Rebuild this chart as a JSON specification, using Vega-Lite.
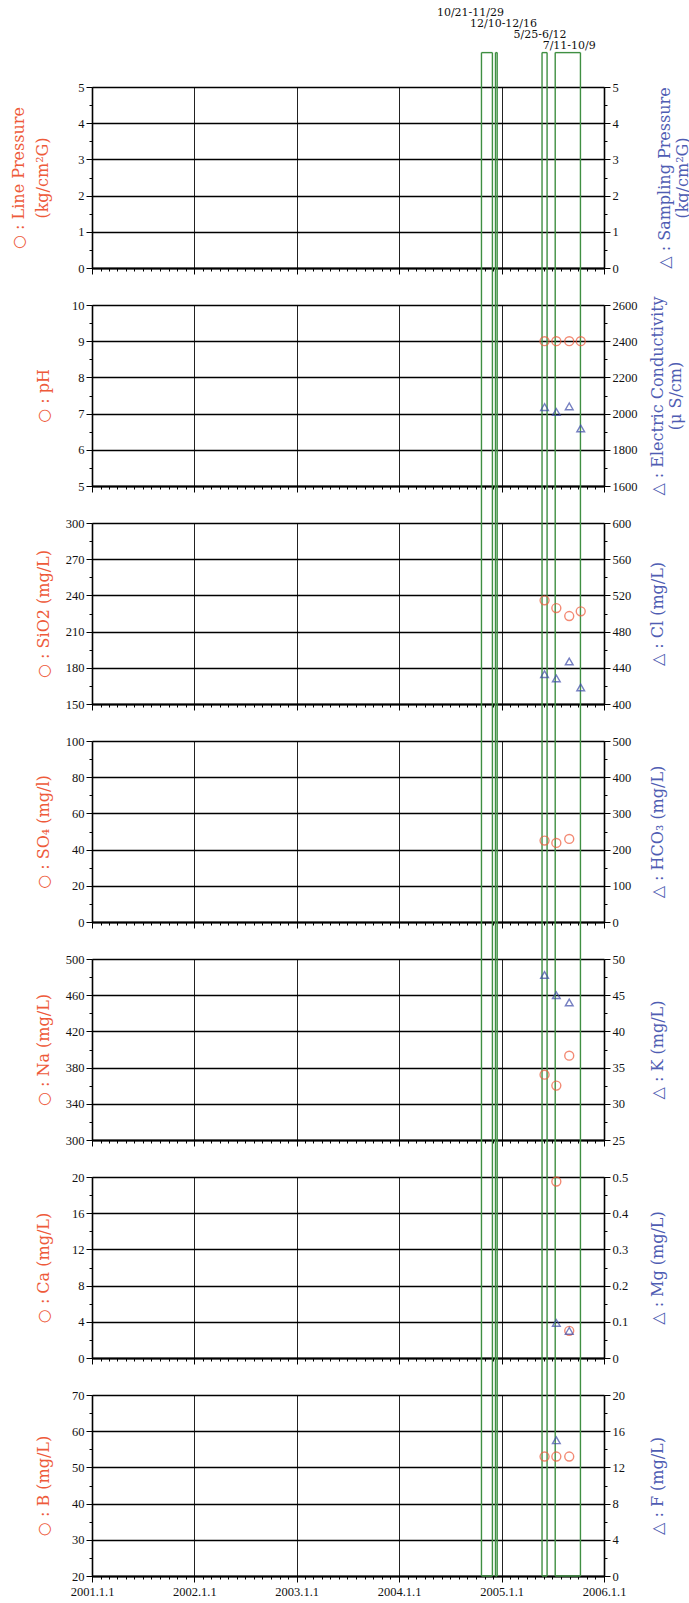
{
  "$schema": "https://vega.github.io/schema/vega-lite/v6.json",
  "background": "white",
  "padding": {"left": 10, "top": 7, "right": 5, "bottom": 5},
  "datasets": {
    "samples": [
      {"date": "2005-06-03T00:00", "pH": 9.0, "ec": 2036, "SiO2": 235.9, "Cl": 433, "SO4": 45.0, "Na": 372.2, "K": 47.8, "B": 53},
      {"date": "2005-07-15T00:00", "pH": 9.0, "ec": 2009, "SiO2": 229.5, "Cl": 428.3, "SO4": 43.7, "Na": 360.1, "K": 45.0, "Ca": 19.5, "Mg": 0.097, "B": 53, "F": 15.0},
      {"date": "2005-08-30T00:00", "pH": 9.0, "ec": 2040, "SiO2": 222.9, "Cl": 447, "SO4": 45.9, "Na": 393.2, "K": 44.0, "Ca": 3.0, "Mg": 0.075, "B": 53},
      {"date": "2005-10-10T00:00", "pH": 9.0, "ec": 1918, "SiO2": 226.8, "Cl": 418.3}
    ],
    "periods": [
      {"period": "10/21-11/29", "start": "2004-10-21T00:00", "end": "2004-11-29T00:00"},
      {"period": "12/10-12/16", "start": "2004-12-10T00:00", "end": "2004-12-16T00:00"},
      {"period": "5/25-6/12", "start": "2005-05-25T00:00", "end": "2005-06-12T00:00"},
      {"period": "7/11-10/9", "start": "2005-07-11T00:00", "end": "2005-10-09T00:00"}
    ]
  },
  "vconcat": [
    {
      "width": 512, "height": 181,
      "resolve": {"scale": {"y": "independent"}, "axis": {"x": "independent"}},
      "layer": [
        {"data": {"name": "periods"}, "mark": {"type": "rule", "color": "#3f8f42", "strokeWidth": 1.4},
         "encoding": {"x": {"field": "start", "type": "temporal", "scale": {"domain": [{"year": 2001, "month": 1, "date": 1}, {"year": 2006, "month": 1, "date": 1}]}, "axis": null},
                      "y": {"datum": 0, "type": "quantitative", "scale": {"domain": [0, 5], "nice": false, "zero": false}, "axis": null}, "y2": {"datum": 5.95}}},
        {"data": {"name": "periods"}, "mark": {"type": "rule", "color": "#3f8f42", "strokeWidth": 1.4},
         "encoding": {"x": {"field": "end", "type": "temporal", "axis": null},
                      "y": {"datum": 0, "type": "quantitative", "scale": {"domain": [0, 5], "nice": false, "zero": false}, "axis": null}, "y2": {"datum": 5.95}}},
        {"data": {"name": "periods"}, "mark": {"type": "rule", "color": "#3f8f42", "strokeWidth": 1.4},
         "encoding": {"x": {"field": "start", "type": "temporal", "axis": null}, "x2": {"field": "end"},
                      "y": {"datum": 5.95, "type": "quantitative", "scale": {"domain": [0, 5], "nice": false, "zero": false}, "axis": null}}},
        {"data": {"name": "periods"}, "transform": [{"filter": "datum.period == '10/21-11/29'"}],
         "mark": {"type": "text", "font": "DejaVu Serif", "fontSize": 11, "color": "#111", "align": "center", "baseline": "middle", "dx": -11, "dy": -74},
         "encoding": {"x": {"field": "start", "type": "temporal", "axis": null}, "y": {"datum": 5, "type": "quantitative", "scale": {"domain": [0, 5], "nice": false, "zero": false}, "axis": null}, "text": {"field": "period"}}},
        {"data": {"name": "periods"}, "transform": [{"filter": "datum.period == '12/10-12/16'"}],
         "mark": {"type": "text", "font": "DejaVu Serif", "fontSize": 11, "color": "#111", "align": "center", "baseline": "middle", "dx": 8, "dy": -63},
         "encoding": {"x": {"field": "start", "type": "temporal", "axis": null}, "y": {"datum": 5, "type": "quantitative", "scale": {"domain": [0, 5], "nice": false, "zero": false}, "axis": null}, "text": {"field": "period"}}},
        {"data": {"name": "periods"}, "transform": [{"filter": "datum.period == '5/25-6/12'"}],
         "mark": {"type": "text", "font": "DejaVu Serif", "fontSize": 11, "color": "#111", "align": "center", "baseline": "middle", "dx": -2, "dy": -52},
         "encoding": {"x": {"field": "start", "type": "temporal", "axis": null}, "y": {"datum": 5, "type": "quantitative", "scale": {"domain": [0, 5], "nice": false, "zero": false}, "axis": null}, "text": {"field": "period"}}},
        {"data": {"name": "periods"}, "transform": [{"filter": "datum.period == '7/11-10/9'"}],
         "mark": {"type": "text", "font": "DejaVu Serif", "fontSize": 11, "color": "#111", "align": "center", "baseline": "middle", "dx": 14, "dy": -40.7},
         "encoding": {"x": {"field": "start", "type": "temporal", "axis": null}, "y": {"datum": 5, "type": "quantitative", "scale": {"domain": [0, 5], "nice": false, "zero": false}, "axis": null}, "text": {"field": "period"}}},
        {"data": {"name": "samples"}, "mark": {"type": "point", "opacity": 0},
         "encoding": {"x": {"field": "date", "type": "temporal", "axis": {"orient": "bottom", "title": null, "labels": false, "domain": false, "grid": false, "tickCount": {"interval": "month", "step": 1}, "tickSize": 3}},
                      "y": {"field": "line_pressure", "type": "quantitative", "scale": {"domain": [0, 5], "nice": false, "zero": false}, "axis": {"orient": "left", "values": [0.5, 1.5, 2.5, 3.5, 4.5], "labels": false, "domain": false, "grid": false, "tickSize": 3, "title": null}}}},
        {"data": {"name": "samples"}, "mark": {"type": "point", "opacity": 0},
         "encoding": {"x": {"field": "date", "type": "temporal", "axis": null},
                      "y": {"field": "sampling_pressure", "type": "quantitative", "scale": {"domain": [0, 5], "nice": false, "zero": false}, "axis": {"orient": "right", "values": [0.5, 1.5, 2.5, 3.5, 4.5], "labels": false, "domain": false, "grid": false, "tickSize": 3, "title": null}}}},
        {"data": {"name": "samples"}, "mark": {"type": "point", "shape": "circle", "filled": false, "size": 80, "strokeWidth": 1.4, "color": "#ee5a3a"},
         "encoding": {"x": {"field": "date", "type": "temporal", "axis": {"orient": "bottom", "title": null, "labels": false, "values": [{"year": 2001, "month": 1, "date": 1}, {"year": 2002, "month": 1, "date": 1}, {"year": 2003, "month": 1, "date": 1}, {"year": 2004, "month": 1, "date": 1}, {"year": 2005, "month": 1, "date": 1}, {"year": 2006, "month": 1, "date": 1}], "tickSize": 6, "grid": true, "gridColor": "#222", "gridWidth": 1, "domainWidth": 1.8}},
                      "y": {"field": "line_pressure", "type": "quantitative", "scale": {"domain": [0, 5], "nice": false, "zero": false},
                            "axis": {"orient": "left", "values": [0, 1, 2, 3, 4, 5], "format": "d", "tickSize": 6, "grid": true, "gridColor": "#000", "gridWidth": 1.6, "titleX": -66, "title": ["○ : Line Pressure", "(kg/cm²G)"]}}}},
        {"data": {"name": "samples"}, "mark": {"type": "point", "shape": "triangle-up", "filled": false, "size": 60, "strokeWidth": 1.4, "color": "#3d4ba8"},
         "encoding": {"x": {"field": "date", "type": "temporal", "axis": null},
                      "y": {"field": "sampling_pressure", "type": "quantitative", "scale": {"domain": [0, 5], "nice": false, "zero": false},
                            "axis": {"orient": "right", "values": [0, 1, 2, 3, 4, 5], "format": "d", "tickSize": 6, "grid": false, "titleX": 52, "title": ["△ : Sampling Pressure", "(kg/cm²G)"]}}}}
      ]
    },
    {
      "width": 512, "height": 181,
      "resolve": {"scale": {"y": "independent"}, "axis": {"x": "independent"}},
      "layer": [
        {"data": {"name": "periods"}, "mark": {"type": "rule", "color": "#3f8f42", "strokeWidth": 1.4},
         "encoding": {"x": {"field": "start", "type": "temporal", "scale": {"domain": [{"year": 2001, "month": 1, "date": 1}, {"year": 2006, "month": 1, "date": 1}]}, "axis": null},
                      "y": {"datum": 5, "type": "quantitative", "scale": {"domain": [5, 10], "nice": false, "zero": false}, "axis": null}, "y2": {"datum": 11.05}}},
        {"data": {"name": "periods"}, "mark": {"type": "rule", "color": "#3f8f42", "strokeWidth": 1.4},
         "encoding": {"x": {"field": "end", "type": "temporal", "axis": null},
                      "y": {"datum": 5, "type": "quantitative", "scale": {"domain": [5, 10], "nice": false, "zero": false}, "axis": null}, "y2": {"datum": 11.05}}},
        {"data": {"name": "samples"}, "mark": {"type": "point", "opacity": 0},
         "encoding": {"x": {"field": "date", "type": "temporal", "axis": {"orient": "bottom", "title": null, "labels": false, "domain": false, "grid": false, "tickCount": {"interval": "month", "step": 1}, "tickSize": 3}},
                      "y": {"field": "pH", "type": "quantitative", "scale": {"domain": [5, 10], "nice": false, "zero": false}, "axis": {"orient": "left", "values": [5.5, 6.5, 7.5, 8.5, 9.5], "labels": false, "domain": false, "grid": false, "tickSize": 3, "title": null}}}},
        {"data": {"name": "samples"}, "mark": {"type": "point", "opacity": 0},
         "encoding": {"x": {"field": "date", "type": "temporal", "axis": null},
                      "y": {"field": "ec", "type": "quantitative", "scale": {"domain": [1600, 2600], "nice": false, "zero": false}, "axis": {"orient": "right", "values": [1700, 1900, 2100, 2300, 2500], "labels": false, "domain": false, "grid": false, "tickSize": 3, "title": null}}}},
        {"data": {"name": "samples"}, "mark": {"type": "point", "shape": "circle", "filled": false, "size": 80, "strokeWidth": 1.4, "color": "#ee5a3a"},
         "encoding": {"x": {"field": "date", "type": "temporal", "axis": {"orient": "bottom", "title": null, "labels": false, "values": [{"year": 2001, "month": 1, "date": 1}, {"year": 2002, "month": 1, "date": 1}, {"year": 2003, "month": 1, "date": 1}, {"year": 2004, "month": 1, "date": 1}, {"year": 2005, "month": 1, "date": 1}, {"year": 2006, "month": 1, "date": 1}], "tickSize": 6, "grid": true, "gridColor": "#222", "gridWidth": 1, "domainWidth": 1.8}},
                      "y": {"field": "pH", "type": "quantitative", "scale": {"domain": [5, 10], "nice": false, "zero": false},
                            "axis": {"orient": "left", "values": [5, 6, 7, 8, 9, 10], "format": "d", "tickSize": 6, "grid": true, "gridColor": "#000", "gridWidth": 1.6, "title": "○ : pH"}}}},
        {"data": {"name": "samples"}, "mark": {"type": "point", "shape": "triangle-up", "filled": false, "size": 60, "strokeWidth": 1.4, "color": "#3d4ba8"},
         "encoding": {"x": {"field": "date", "type": "temporal", "axis": null},
                      "y": {"field": "ec", "type": "quantitative", "scale": {"domain": [1600, 2600], "nice": false, "zero": false},
                            "axis": {"orient": "right", "values": [1600, 1800, 2000, 2200, 2400, 2600], "format": "d", "tickSize": 6, "grid": false, "title": ["△ : Electric Conductivity", "(μ S/cm)"]}}}}
      ]
    },
    {
      "width": 512, "height": 181,
      "resolve": {"scale": {"y": "independent"}, "axis": {"x": "independent"}},
      "layer": [
        {"data": {"name": "periods"}, "mark": {"type": "rule", "color": "#3f8f42", "strokeWidth": 1.4},
         "encoding": {"x": {"field": "start", "type": "temporal", "scale": {"domain": [{"year": 2001, "month": 1, "date": 1}, {"year": 2006, "month": 1, "date": 1}]}, "axis": null},
                      "y": {"datum": 150, "type": "quantitative", "scale": {"domain": [150, 300], "nice": false, "zero": false}, "axis": null}, "y2": {"datum": 331.5}}},
        {"data": {"name": "periods"}, "mark": {"type": "rule", "color": "#3f8f42", "strokeWidth": 1.4},
         "encoding": {"x": {"field": "end", "type": "temporal", "axis": null},
                      "y": {"datum": 150, "type": "quantitative", "scale": {"domain": [150, 300], "nice": false, "zero": false}, "axis": null}, "y2": {"datum": 331.5}}},
        {"data": {"name": "samples"}, "mark": {"type": "point", "opacity": 0},
         "encoding": {"x": {"field": "date", "type": "temporal", "axis": {"orient": "bottom", "title": null, "labels": false, "domain": false, "grid": false, "tickCount": {"interval": "month", "step": 1}, "tickSize": 3}},
                      "y": {"field": "SiO2", "type": "quantitative", "scale": {"domain": [150, 300], "nice": false, "zero": false}, "axis": {"orient": "left", "values": [165, 195, 225, 255, 285], "labels": false, "domain": false, "grid": false, "tickSize": 3, "title": null}}}},
        {"data": {"name": "samples"}, "mark": {"type": "point", "opacity": 0},
         "encoding": {"x": {"field": "date", "type": "temporal", "axis": null},
                      "y": {"field": "Cl", "type": "quantitative", "scale": {"domain": [400, 600], "nice": false, "zero": false}, "axis": {"orient": "right", "values": [420, 460, 500, 540, 580], "labels": false, "domain": false, "grid": false, "tickSize": 3, "title": null}}}},
        {"data": {"name": "samples"}, "mark": {"type": "point", "shape": "circle", "filled": false, "size": 80, "strokeWidth": 1.4, "color": "#ee5a3a"},
         "encoding": {"x": {"field": "date", "type": "temporal", "axis": {"orient": "bottom", "title": null, "labels": false, "values": [{"year": 2001, "month": 1, "date": 1}, {"year": 2002, "month": 1, "date": 1}, {"year": 2003, "month": 1, "date": 1}, {"year": 2004, "month": 1, "date": 1}, {"year": 2005, "month": 1, "date": 1}, {"year": 2006, "month": 1, "date": 1}], "tickSize": 6, "grid": true, "gridColor": "#222", "gridWidth": 1, "domainWidth": 1.8}},
                      "y": {"field": "SiO2", "type": "quantitative", "scale": {"domain": [150, 300], "nice": false, "zero": false},
                            "axis": {"orient": "left", "values": [150, 180, 210, 240, 270, 300], "format": "d", "tickSize": 6, "grid": true, "gridColor": "#000", "gridWidth": 1.6, "title": "○ : SiO2  (mg/L)"}}}},
        {"data": {"name": "samples"}, "mark": {"type": "point", "shape": "triangle-up", "filled": false, "size": 60, "strokeWidth": 1.4, "color": "#3d4ba8"},
         "encoding": {"x": {"field": "date", "type": "temporal", "axis": null},
                      "y": {"field": "Cl", "type": "quantitative", "scale": {"domain": [400, 600], "nice": false, "zero": false},
                            "axis": {"orient": "right", "values": [400, 440, 480, 520, 560, 600], "format": "d", "tickSize": 6, "grid": false, "title": "△ : Cl  (mg/L)"}}}}
      ]
    },
    {
      "width": 512, "height": 181,
      "resolve": {"scale": {"y": "independent"}, "axis": {"x": "independent"}},
      "layer": [
        {"data": {"name": "periods"}, "mark": {"type": "rule", "color": "#3f8f42", "strokeWidth": 1.4},
         "encoding": {"x": {"field": "start", "type": "temporal", "scale": {"domain": [{"year": 2001, "month": 1, "date": 1}, {"year": 2006, "month": 1, "date": 1}]}, "axis": null},
                      "y": {"datum": 0, "type": "quantitative", "scale": {"domain": [0, 100], "nice": false, "zero": false}, "axis": null}, "y2": {"datum": 121}}},
        {"data": {"name": "periods"}, "mark": {"type": "rule", "color": "#3f8f42", "strokeWidth": 1.4},
         "encoding": {"x": {"field": "end", "type": "temporal", "axis": null},
                      "y": {"datum": 0, "type": "quantitative", "scale": {"domain": [0, 100], "nice": false, "zero": false}, "axis": null}, "y2": {"datum": 121}}},
        {"data": {"name": "samples"}, "mark": {"type": "point", "opacity": 0},
         "encoding": {"x": {"field": "date", "type": "temporal", "axis": {"orient": "bottom", "title": null, "labels": false, "domain": false, "grid": false, "tickCount": {"interval": "month", "step": 1}, "tickSize": 3}},
                      "y": {"field": "SO4", "type": "quantitative", "scale": {"domain": [0, 100], "nice": false, "zero": false}, "axis": {"orient": "left", "values": [10, 30, 50, 70, 90], "labels": false, "domain": false, "grid": false, "tickSize": 3, "title": null}}}},
        {"data": {"name": "samples"}, "mark": {"type": "point", "opacity": 0},
         "encoding": {"x": {"field": "date", "type": "temporal", "axis": null},
                      "y": {"field": "HCO3", "type": "quantitative", "scale": {"domain": [0, 500], "nice": false, "zero": false}, "axis": {"orient": "right", "values": [50, 150, 250, 350, 450], "labels": false, "domain": false, "grid": false, "tickSize": 3, "title": null}}}},
        {"data": {"name": "samples"}, "mark": {"type": "point", "shape": "circle", "filled": false, "size": 80, "strokeWidth": 1.4, "color": "#ee5a3a"},
         "encoding": {"x": {"field": "date", "type": "temporal", "axis": {"orient": "bottom", "title": null, "labels": false, "values": [{"year": 2001, "month": 1, "date": 1}, {"year": 2002, "month": 1, "date": 1}, {"year": 2003, "month": 1, "date": 1}, {"year": 2004, "month": 1, "date": 1}, {"year": 2005, "month": 1, "date": 1}, {"year": 2006, "month": 1, "date": 1}], "tickSize": 6, "grid": true, "gridColor": "#222", "gridWidth": 1, "domainWidth": 1.8}},
                      "y": {"field": "SO4", "type": "quantitative", "scale": {"domain": [0, 100], "nice": false, "zero": false},
                            "axis": {"orient": "left", "values": [0, 20, 40, 60, 80, 100], "format": "d", "tickSize": 6, "grid": true, "gridColor": "#000", "gridWidth": 1.6, "title": "○ : SO₄  (mg/l)"}}}},
        {"data": {"name": "samples"}, "mark": {"type": "point", "shape": "triangle-up", "filled": false, "size": 60, "strokeWidth": 1.4, "color": "#3d4ba8"},
         "encoding": {"x": {"field": "date", "type": "temporal", "axis": null},
                      "y": {"field": "HCO3", "type": "quantitative", "scale": {"domain": [0, 500], "nice": false, "zero": false},
                            "axis": {"orient": "right", "values": [0, 100, 200, 300, 400, 500], "format": "d", "tickSize": 6, "grid": false, "title": "△ : HCO₃  (mg/L)"}}}}
      ]
    },
    {
      "width": 512, "height": 181,
      "resolve": {"scale": {"y": "independent"}, "axis": {"x": "independent"}},
      "layer": [
        {"data": {"name": "periods"}, "mark": {"type": "rule", "color": "#3f8f42", "strokeWidth": 1.4},
         "encoding": {"x": {"field": "start", "type": "temporal", "scale": {"domain": [{"year": 2001, "month": 1, "date": 1}, {"year": 2006, "month": 1, "date": 1}]}, "axis": null},
                      "y": {"datum": 300, "type": "quantitative", "scale": {"domain": [300, 500], "nice": false, "zero": false}, "axis": null}, "y2": {"datum": 542}}},
        {"data": {"name": "periods"}, "mark": {"type": "rule", "color": "#3f8f42", "strokeWidth": 1.4},
         "encoding": {"x": {"field": "end", "type": "temporal", "axis": null},
                      "y": {"datum": 300, "type": "quantitative", "scale": {"domain": [300, 500], "nice": false, "zero": false}, "axis": null}, "y2": {"datum": 542}}},
        {"data": {"name": "samples"}, "mark": {"type": "point", "opacity": 0},
         "encoding": {"x": {"field": "date", "type": "temporal", "axis": {"orient": "bottom", "title": null, "labels": false, "domain": false, "grid": false, "tickCount": {"interval": "month", "step": 1}, "tickSize": 3}},
                      "y": {"field": "Na", "type": "quantitative", "scale": {"domain": [300, 500], "nice": false, "zero": false}, "axis": {"orient": "left", "values": [320, 360, 400, 440, 480], "labels": false, "domain": false, "grid": false, "tickSize": 3, "title": null}}}},
        {"data": {"name": "samples"}, "mark": {"type": "point", "opacity": 0},
         "encoding": {"x": {"field": "date", "type": "temporal", "axis": null},
                      "y": {"field": "K", "type": "quantitative", "scale": {"domain": [25, 50], "nice": false, "zero": false}, "axis": {"orient": "right", "values": [27.5, 32.5, 37.5, 42.5, 47.5], "labels": false, "domain": false, "grid": false, "tickSize": 3, "title": null}}}},
        {"data": {"name": "samples"}, "mark": {"type": "point", "shape": "circle", "filled": false, "size": 80, "strokeWidth": 1.4, "color": "#ee5a3a"},
         "encoding": {"x": {"field": "date", "type": "temporal", "axis": {"orient": "bottom", "title": null, "labels": false, "values": [{"year": 2001, "month": 1, "date": 1}, {"year": 2002, "month": 1, "date": 1}, {"year": 2003, "month": 1, "date": 1}, {"year": 2004, "month": 1, "date": 1}, {"year": 2005, "month": 1, "date": 1}, {"year": 2006, "month": 1, "date": 1}], "tickSize": 6, "grid": true, "gridColor": "#222", "gridWidth": 1, "domainWidth": 1.8}},
                      "y": {"field": "Na", "type": "quantitative", "scale": {"domain": [300, 500], "nice": false, "zero": false},
                            "axis": {"orient": "left", "values": [300, 340, 380, 420, 460, 500], "format": "d", "tickSize": 6, "grid": true, "gridColor": "#000", "gridWidth": 1.6, "title": "○ : Na  (mg/L)"}}}},
        {"data": {"name": "samples"}, "mark": {"type": "point", "shape": "triangle-up", "filled": false, "size": 60, "strokeWidth": 1.4, "color": "#3d4ba8"},
         "encoding": {"x": {"field": "date", "type": "temporal", "axis": null},
                      "y": {"field": "K", "type": "quantitative", "scale": {"domain": [25, 50], "nice": false, "zero": false},
                            "axis": {"orient": "right", "values": [25, 30, 35, 40, 45, 50], "format": "d", "tickSize": 6, "grid": false, "title": "△ : K  (mg/L)"}}}}
      ]
    },
    {
      "width": 512, "height": 181,
      "resolve": {"scale": {"y": "independent"}, "axis": {"x": "independent"}},
      "layer": [
        {"data": {"name": "periods"}, "mark": {"type": "rule", "color": "#3f8f42", "strokeWidth": 1.4},
         "encoding": {"x": {"field": "start", "type": "temporal", "scale": {"domain": [{"year": 2001, "month": 1, "date": 1}, {"year": 2006, "month": 1, "date": 1}]}, "axis": null},
                      "y": {"datum": 0, "type": "quantitative", "scale": {"domain": [0, 20], "nice": false, "zero": false}, "axis": null}, "y2": {"datum": 24.2}}},
        {"data": {"name": "periods"}, "mark": {"type": "rule", "color": "#3f8f42", "strokeWidth": 1.4},
         "encoding": {"x": {"field": "end", "type": "temporal", "axis": null},
                      "y": {"datum": 0, "type": "quantitative", "scale": {"domain": [0, 20], "nice": false, "zero": false}, "axis": null}, "y2": {"datum": 24.2}}},
        {"data": {"name": "samples"}, "mark": {"type": "point", "opacity": 0},
         "encoding": {"x": {"field": "date", "type": "temporal", "axis": {"orient": "bottom", "title": null, "labels": false, "domain": false, "grid": false, "tickCount": {"interval": "month", "step": 1}, "tickSize": 3}},
                      "y": {"field": "Ca", "type": "quantitative", "scale": {"domain": [0, 20], "nice": false, "zero": false}, "axis": {"orient": "left", "values": [2, 6, 10, 14, 18], "labels": false, "domain": false, "grid": false, "tickSize": 3, "title": null}}}},
        {"data": {"name": "samples"}, "mark": {"type": "point", "opacity": 0},
         "encoding": {"x": {"field": "date", "type": "temporal", "axis": null},
                      "y": {"field": "Mg", "type": "quantitative", "scale": {"domain": [0, 0.5], "nice": false, "zero": false}, "axis": {"orient": "right", "values": [0.05, 0.15, 0.25, 0.35, 0.45], "labels": false, "domain": false, "grid": false, "tickSize": 3, "title": null}}}},
        {"data": {"name": "samples"}, "mark": {"type": "point", "shape": "circle", "filled": false, "size": 80, "strokeWidth": 1.4, "color": "#ee5a3a"},
         "encoding": {"x": {"field": "date", "type": "temporal", "axis": {"orient": "bottom", "title": null, "labels": false, "values": [{"year": 2001, "month": 1, "date": 1}, {"year": 2002, "month": 1, "date": 1}, {"year": 2003, "month": 1, "date": 1}, {"year": 2004, "month": 1, "date": 1}, {"year": 2005, "month": 1, "date": 1}, {"year": 2006, "month": 1, "date": 1}], "tickSize": 6, "grid": true, "gridColor": "#222", "gridWidth": 1, "domainWidth": 1.8}},
                      "y": {"field": "Ca", "type": "quantitative", "scale": {"domain": [0, 20], "nice": false, "zero": false},
                            "axis": {"orient": "left", "values": [0, 4, 8, 12, 16, 20], "format": "d", "tickSize": 6, "grid": true, "gridColor": "#000", "gridWidth": 1.6, "title": "○ : Ca  (mg/L)"}}}},
        {"data": {"name": "samples"}, "mark": {"type": "point", "shape": "triangle-up", "filled": false, "size": 60, "strokeWidth": 1.4, "color": "#3d4ba8"},
         "encoding": {"x": {"field": "date", "type": "temporal", "axis": null},
                      "y": {"field": "Mg", "type": "quantitative", "scale": {"domain": [0, 0.5], "nice": false, "zero": false},
                            "axis": {"orient": "right", "values": [0, 0.1, 0.2, 0.3, 0.4, 0.5], "format": "~g", "tickSize": 6, "grid": false, "title": "△ : Mg  (mg/L)"}}}}
      ]
    },
    {
      "width": 512, "height": 181,
      "resolve": {"scale": {"y": "independent"}, "axis": {"x": "independent"}},
      "layer": [
        {"data": {"name": "periods"}, "mark": {"type": "rule", "color": "#3f8f42", "strokeWidth": 1.4},
         "encoding": {"x": {"field": "start", "type": "temporal", "scale": {"domain": [{"year": 2001, "month": 1, "date": 1}, {"year": 2006, "month": 1, "date": 1}]}, "axis": null},
                      "y": {"datum": 20, "type": "quantitative", "scale": {"domain": [20, 70], "nice": false, "zero": false}, "axis": null}, "y2": {"datum": 80.5}}},
        {"data": {"name": "periods"}, "mark": {"type": "rule", "color": "#3f8f42", "strokeWidth": 1.4},
         "encoding": {"x": {"field": "end", "type": "temporal", "axis": null},
                      "y": {"datum": 20, "type": "quantitative", "scale": {"domain": [20, 70], "nice": false, "zero": false}, "axis": null}, "y2": {"datum": 80.5}}},
        {"data": {"name": "periods"}, "mark": {"type": "rule", "color": "#3f8f42", "strokeWidth": 1.4},
         "encoding": {"x": {"field": "start", "type": "temporal", "axis": null}, "x2": {"field": "end"},
                      "y": {"datum": 20, "type": "quantitative", "scale": {"domain": [20, 70], "nice": false, "zero": false}, "axis": null}}},
        {"data": {"name": "samples"}, "mark": {"type": "point", "opacity": 0},
         "encoding": {"x": {"field": "date", "type": "temporal", "axis": {"orient": "bottom", "title": null, "labels": false, "domain": false, "grid": false, "tickCount": {"interval": "month", "step": 1}, "tickSize": 3}},
                      "y": {"field": "B", "type": "quantitative", "scale": {"domain": [20, 70], "nice": false, "zero": false}, "axis": {"orient": "left", "values": [25, 35, 45, 55, 65], "labels": false, "domain": false, "grid": false, "tickSize": 3, "title": null}}}},
        {"data": {"name": "samples"}, "mark": {"type": "point", "opacity": 0},
         "encoding": {"x": {"field": "date", "type": "temporal", "axis": null},
                      "y": {"field": "F", "type": "quantitative", "scale": {"domain": [0, 20], "nice": false, "zero": false}, "axis": {"orient": "right", "values": [2, 6, 10, 14, 18], "labels": false, "domain": false, "grid": false, "tickSize": 3, "title": null}}}},
        {"data": {"name": "samples"}, "mark": {"type": "point", "shape": "circle", "filled": false, "size": 80, "strokeWidth": 1.4, "color": "#ee5a3a"},
         "encoding": {"x": {"field": "date", "type": "temporal", "axis": {"orient": "bottom", "title": null, "labels": true, "format": "%Y.%-m.%-d", "labelFlush": false, "labelPadding": 3, "values": [{"year": 2001, "month": 1, "date": 1}, {"year": 2002, "month": 1, "date": 1}, {"year": 2003, "month": 1, "date": 1}, {"year": 2004, "month": 1, "date": 1}, {"year": 2005, "month": 1, "date": 1}, {"year": 2006, "month": 1, "date": 1}], "tickSize": 6, "grid": true, "gridColor": "#222", "gridWidth": 1, "domainWidth": 1.8}},
                      "y": {"field": "B", "type": "quantitative", "scale": {"domain": [20, 70], "nice": false, "zero": false},
                            "axis": {"orient": "left", "values": [20, 30, 40, 50, 60, 70], "format": "d", "tickSize": 6, "grid": true, "gridColor": "#000", "gridWidth": 1.6, "title": "○ : B  (mg/L)"}}}},
        {"data": {"name": "samples"}, "mark": {"type": "point", "shape": "triangle-up", "filled": false, "size": 60, "strokeWidth": 1.4, "color": "#3d4ba8"},
         "encoding": {"x": {"field": "date", "type": "temporal", "axis": null},
                      "y": {"field": "F", "type": "quantitative", "scale": {"domain": [0, 20], "nice": false, "zero": false},
                            "axis": {"orient": "right", "values": [0, 4, 8, 12, 16, 20], "format": "d", "tickSize": 6, "grid": false, "title": "△ : F  (mg/L)"}}}}
      ]
    }
  ],
  "spacing": 37,
  "bounds": "flush",
  "config": {
    "view": {"stroke": null},
    "axis": {"domainColor": "#000", "tickColor": "#000", "domainWidth": 1.6, "labelFont": "Liberation Serif", "labelFontSize": 12.5, "labelColor": "#111", "labelOverlap": false, "labelPadding": 2,
             "titleFont": "DejaVu Serif", "titleFontSize": 16, "titleFontWeight": "normal"},
    "axisLeft": {"titleAngle": 270, "titleBaseline": "bottom", "titleAlign": "center", "titleX": -40.5, "titleY": 90.5, "titleColor": "#ee5a3a", "titleLineHeight": 24},
    "axisRight": {"titleAngle": 270, "titleBaseline": "top", "titleAlign": "center", "titleX": 45, "titleY": 90.5, "titleColor": "#4f5db3", "titleLineHeight": 18}
  }
}
